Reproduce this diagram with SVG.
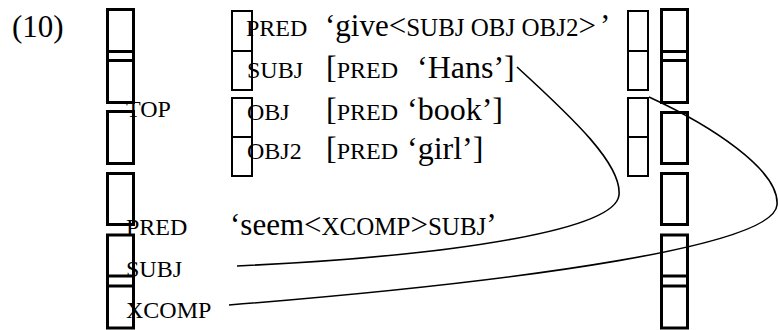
<svg xmlns="http://www.w3.org/2000/svg" width="778" height="330" viewBox="0 0 778 330">
  <style>
    text { font-family: "Liberation Serif", "Times New Roman", serif; fill: #000; }
    .big { font-size: 31px; }
    .val { font-size: 32px; }
    .lab { font-size: 24px; }
    .sc { font-size: 25px; }
    .outer { fill: none; stroke: #000; stroke-width: 3; }
    .inner { fill: none; stroke: #000; stroke-width: 2; }
    .link { fill: none; stroke: #000; stroke-width: 1.6; }
  </style>

  <text class="big" x="12" y="37">(10)</text>

  <!-- outer f-structure brackets, left -->
  <g id="outer-left">
    <rect class="outer" x="107.5" y="9.5" width="26" height="51"/>
    <rect class="outer" x="107.5" y="51.5" width="26" height="51"/>
    <rect class="outer" x="107.5" y="111.5" width="26" height="52"/>
    <rect class="outer" x="107.5" y="173.5" width="26" height="51"/>
    <rect class="outer" x="107.5" y="235" width="26" height="51"/>
    <rect class="outer" x="107.5" y="276" width="26" height="52"/>
  </g>

  <!-- outer f-structure brackets, right -->
  <g id="outer-right">
    <rect class="outer" x="661.5" y="9.5" width="26" height="51"/>
    <rect class="outer" x="661.5" y="51.5" width="26" height="51"/>
    <rect class="outer" x="661.5" y="112.5" width="26" height="51"/>
    <rect class="outer" x="661.5" y="173.5" width="26" height="51"/>
    <rect class="outer" x="661.5" y="235" width="26" height="51"/>
    <rect class="outer" x="661.5" y="276" width="26" height="52"/>
  </g>

  <!-- embedded TOP f-structure brackets -->
  <g id="inner-left">
    <rect class="inner" x="232" y="11" width="20" height="40"/>
    <rect class="inner" x="232" y="51" width="20" height="39"/>
    <rect class="inner" x="232" y="98" width="20" height="39"/>
    <rect class="inner" x="232" y="137" width="20" height="39"/>
  </g>
  <g id="inner-right">
    <rect class="inner" x="628" y="11" width="20" height="40"/>
    <rect class="inner" x="628" y="51" width="20" height="39"/>
    <rect class="inner" x="628" y="98" width="20" height="39"/>
    <rect class="inner" x="628" y="137" width="20" height="39"/>
  </g>

  <!-- TOP value -->
  <g id="top">
    <text class="lab" x="126" y="117">TOP</text>
    <text class="lab" x="246" y="36">PRED</text>
    <text class="big" x="325" y="36">‘give&lt;<tspan class="sc">SUBJ OBJ OBJ2</tspan>&gt;<tspan dx="4">’</tspan></text>
    <text class="lab" x="247" y="78">SUBJ</text>
    <text x="326" y="78"><tspan class="val">[</tspan><tspan class="lab">PRED</tspan><tspan class="val" x="417">‘Hans’]</tspan></text>
    <text class="lab" x="247" y="120">OBJ</text>
    <text x="326" y="120"><tspan class="val">[</tspan><tspan class="lab">PRED</tspan><tspan class="val" x="407">‘book’]</tspan></text>
    <text class="lab" x="247" y="159">OBJ2</text>
    <text x="326" y="159"><tspan class="val">[</tspan><tspan class="lab">PRED</tspan><tspan class="val" x="407">‘girl’]</tspan></text>
  </g>

  <!-- matrix attributes -->
  <g id="matrix">
    <text class="lab" x="126" y="235">PRED</text>
    <text class="big" x="230" y="235">‘seem&lt;<tspan class="sc">XCOMP</tspan>&gt;<tspan class="sc">SUBJ</tspan>’</text>
    <text class="lab" x="126" y="277">SUBJ</text>
    <text class="lab" x="126" y="318">XCOMP</text>
  </g>

  <!-- structure-sharing lines -->
  <g id="connectors">
    <path class="link" d="M517,67 C575,120 622,165 619,195 C616,228 470,255 237,266"/>
    <path class="link" d="M649,97 C710,125 780,170 777,205 C774,245 540,280 229,305"/>
  </g>
</svg>
